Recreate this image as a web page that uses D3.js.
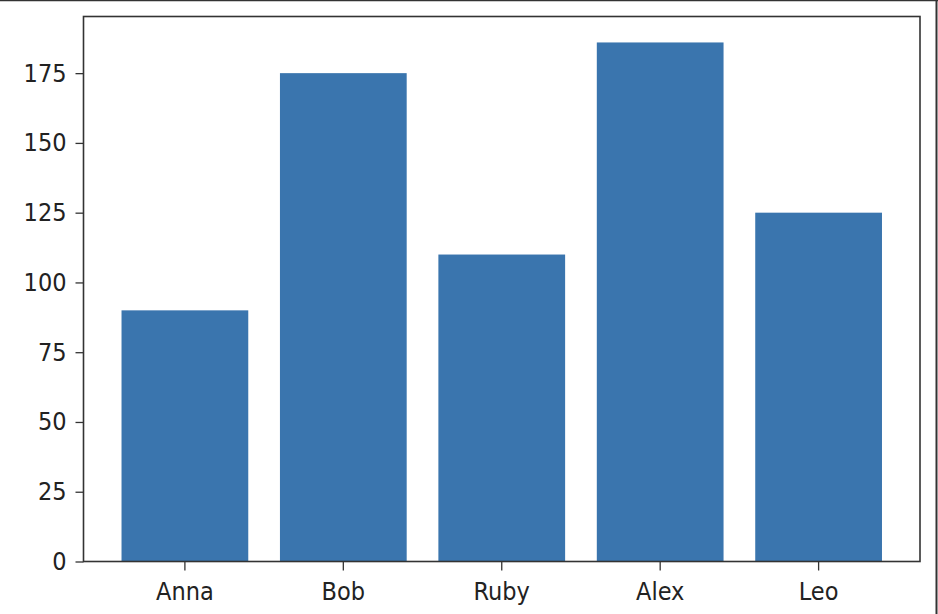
<!DOCTYPE html>
<html>
<head>
<meta charset="utf-8">
<script src="https://cdn.jsdelivr.net/npm/d3@7"></script>
<style>
  body { margin: 0; background: #fff; }
  .tick text { font-family: "DejaVu Sans Condensed", "DejaVu Sans", sans-serif; font-stretch: condensed; font-size: 25px; fill: #222; }
</style>
</head>
<body>
<div id="area"></div>
<script>
const names = ['Anna', 'Bob', 'Ruby', 'Alex', 'Leo']
const heights = [90, 175, 110, 186, 125]
const yTicks = [0, 25, 50, 75, 100, 125, 150, 175]

const W = 938, H = 614
const padLeft = 83.5, padRight = 920, padTop = 16.5, padBottom = 561.5

const svg = d3.select('#area')
            .append('svg')
            .attr('width', W)
            .attr('height', H)

// outer frame bits (top + right only)
svg.append('line').attr('x1', 0).attr('x2', W).attr('y1', 0.5).attr('y2', 0.5)
   .attr('stroke', '#333').attr('stroke-width', 1.5)
svg.append('line').attr('x1', 936.5).attr('x2', 936.5).attr('y1', 0).attr('y2', H)
   .attr('stroke', '#333').attr('stroke-width', 2)

const xScale = d3.scaleBand()
              .domain(names)
              .range([padLeft, padRight])
              .paddingInner(0.2)
              .paddingOuter(0.24)

const yScale = d3.scaleLinear()
              .domain([0, d3.max(heights) * 1.05])
              .range([padBottom, padTop])

svg.selectAll('rect.bar')
    .data(names)
    .enter()
    .append('rect')
    .attr('class', 'bar')
    .attr('x', d => xScale(d))
    .attr('y', (d, i) => yScale(heights[i]))
    .attr('width', xScale.bandwidth())
    .attr('height', (d, i) => yScale(0) - yScale(heights[i]))
    .attr('fill', '#3a75ae')

svg.append('g')
    .attr('transform', `translate(${padLeft},0)`)
    .call(d3.axisLeft(yScale).tickValues(yTicks).tickSize(8).tickPadding(9).tickSizeOuter(0))

svg.append('g')
    .attr('transform', `translate(0,${padBottom})`)
    .call(d3.axisBottom(xScale).tickSize(9).tickPadding(12).tickSizeOuter(0))

svg.selectAll('.domain').remove()
svg.selectAll('.tick line').attr('stroke', '#333').attr('stroke-width', 1.3)

// axes box
svg.append('rect')
   .attr('x', padLeft).attr('y', padTop)
   .attr('width', padRight - padLeft).attr('height', padBottom - padTop)
   .attr('fill', 'none').attr('stroke', '#333').attr('stroke-width', 1.6)
</script>
</body>
</html>
